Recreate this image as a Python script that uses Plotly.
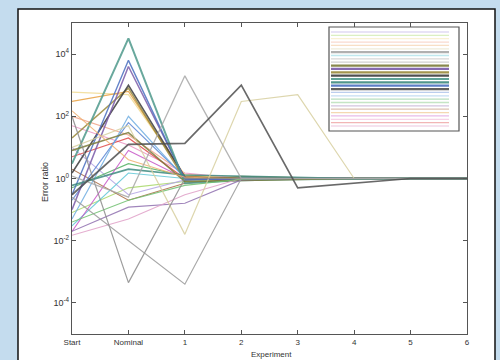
import plotly.graph_objects as go

# ---------------- data ----------------
categories = ["Start", "Nominal", "1", "2", "3", "4", "5", "6"]

y_tick_vals = [1e-4, 1e-2, 1e0, 1e2, 1e4]
y_tick_text = ["10<sup>-4</sup>", "10<sup>-2</sup>", "10<sup>0</sup>", "10<sup>2</sup>", "10<sup>4</sup>"]

# error ratio per run (Start, Nominal, 1..6)
s_lime      = [0.08, 0.5, 0.8, 1, 1, 1, 1, 1]
s_lavender  = [10, 0.3, 0.9, 1, 1, 1, 1, 1]
s_brown     = [2.0, 0.2, 0.7, 1, 1, 1, 1, 1]
s_salmon    = [100, 25, 1.4, 1, 1, 1, 1, 1]
s_cyan      = [0.03, 1.5, 1.0, 1.1, 1, 1, 1, 1]
s_green     = [0.5, 3.0, 1.2, 1, 1, 1, 1, 1]
s_magenta   = [0.02, 8.0, 1.0, 1, 1, 1, 1, 1]
s_pink      = [50, 12, 1.5, 1, 1, 1, 1, 1]
s_red       = [5.0, 20, 1.0, 1, 1, 1, 1, 1]
s_blue2     = [0.2, 63, 1.1, 1, 1, 1, 1, 1]
s_lightblue = [0.05, 100, 1.0, 1, 1, 1, 1, 1]
s_yellow    = [600, 500, 1.3, 1, 1, 1, 1, 1]
s_orange    = [300, 630, 1.2, 1, 1, 1, 1, 1]
s_olive     = [20, 800, 0.9, 1.15, 1.05, 1, 1, 1]
s_black     = [1.5, 1000, 1.1, 1.0, 1, 1, 1, 1]
s_purple    = [0.1, 4000, 1.0, 0.9, 1, 1, 1, 1]
s_blue      = [0.3, 6300, 0.9, 1.0, 1, 1, 1, 1]
s_teal      = [3.0, 32000, 0.7, 0.88, 0.95, 1, 1, 1]
s_teal2     = [0.6, 2.0, 1.3, 1.2, 1.08, 1, 1, 1]
s_olive2    = [8.0, 30, 0.8, 0.85, 0.92, 1, 1, 1]
s_lowpurple = [0.02, 0.12, 0.16, 0.9, 1, 1, 1, 1]
s_lowpink   = [0.015, 0.05, 0.3, 1.0, 1, 1, 1, 1]
s_lowgreen  = [0.04, 0.2, 0.6, 0.95, 1, 1, 1, 1]
s_orange2   = [150, 4.0, 1.1, 1.0, 1, 1, 1, 1]
s_tan       = [10, 50, 0.016, 300, 500, 1.0, 1, 1]
s_grayV1    = [100, 4.5e-4, 1.0, 1.0, 1, 1, 1, 1]
s_grayV2    = [0.25, 0.01, 4e-4, 1.0, 1, 1, 1, 1]
s_grayPeak1 = [1.2, 0.25, 2000, 1.0, 1, 1, 1, 1]
s_darkPeak2 = [0.3, 12.6, 13.5, 1000, 0.5, 0.7, 1, 1]

series = [
    (s_lime, "#a8d868", 1.1),
    (s_lavender, "#b4a4e4", 1.1),
    (s_brown, "#a86a40", 1.1),
    (s_salmon, "#f2a488", 1.1),
    (s_cyan, "#60c8d8", 1.1),
    (s_green, "#50b060", 1.1),
    (s_magenta, "#c858c8", 1.1),
    (s_pink, "#ec94c4", 1.1),
    (s_red, "#e04848", 1.2),
    (s_blue2, "#5a86d4", 1.2),
    (s_lightblue, "#70aee2", 1.2),
    (s_yellow, "#f2dc94", 1.2),
    (s_orange, "#e8a040", 1.2),
    (s_olive, "#9a8a3a", 1.5),
    (s_black, "#3c3c3c", 1.6),
    (s_purple, "#7a5aa8", 1.5),
    (s_blue, "#4a6fc0", 1.4),
    (s_teal, "#4f9a8c", 2.0),
    (s_teal2, "#3e8a80", 1.6),
    (s_olive2, "#7c7c3a", 1.5),
    (s_lowpurple, "#9070b0", 1.1),
    (s_lowpink, "#e0a0c8", 1.1),
    (s_lowgreen, "#70c070", 1.1),
    (s_orange2, "#f0b070", 1.1),
    (s_tan, "#d8d0a0", 1.2),
    (s_grayV1, "#8c8c8c", 1.2),
    (s_grayV2, "#9a9a9a", 1.2),
    (s_grayPeak1, "#a8a8a8", 1.3),
    (s_darkPeak2, "#505050", 1.7),
]

x_pos = list(range(len(categories)))

fig = go.Figure()
for vals, col, w in series:
    fig.add_trace(go.Scatter(x=x_pos, y=vals, mode="lines",
                             line=dict(color=col, width=w),
                             opacity=0.85, showlegend=False, hoverinfo="skip"))

# ---------------- layout ----------------
W, H = 500, 360
L, R, T, B = 72, 33, 23, 26
pw, ph = W - L - R, H - T - B

def px(x):
    return (x - L) / pw

def py(y):
    return (H - B - y) / ph

shapes = []
# white panel with black border
shapes.append(dict(type="rect", xref="paper", yref="paper",
                   x0=px(18), x1=px(495), y0=py(368), y1=py(9),
                   fillcolor="white", line=dict(color="#111111", width=1.5),
                   layer="below"))

# legend box
shapes.append(dict(type="rect", xref="paper", yref="paper",
                   x0=px(329), x1=px(459), y0=py(131), y1=py(27),
                   fillcolor="white", line=dict(color="#555555", width=1.2),
                   layer="above"))
# legend sample lines (one per series; dark ones clustered as in the picture)
legend_order = [1, 0, 11, 3, 23, 24, 27, 4, 26, 25, 19, 15, 13, 14, 17, 18, 16, 28,
                9, 10, 5, 22, 20, 2, 12, 6, 7, 8, 21]
dark = {27, 15, 13, 14, 17, 18, 16, 28, 19}
n = len(legend_order)
for k, idx in enumerate(legend_order):
    yy = 32 + k * (126 - 32) / (n - 1)
    col = series[idx][1]
    shapes.append(dict(type="line", xref="paper", yref="paper",
                       x0=px(331), x1=px(449), y0=py(yy), y1=py(yy),
                       line=dict(color=col, width=2.2 if idx in dark else 1.3),
                       opacity=0.9 if idx in dark else 0.4, layer="above"))

annotations = [
    dict(text="Error ratio", xref="paper", yref="paper", x=px(38), y=py(182),
         textangle=-90, showarrow=False, font=dict(size=9, color="#333333")),
    dict(text="Experiment", xref="paper", yref="paper", x=px(271), y=py(354),
         yanchor="middle", showarrow=False, font=dict(size=8, color="#333333")),
]

axis_common = dict(showline=True, linecolor="#555555", linewidth=1.3, mirror="ticks",
                   ticks="inside", ticklen=4, tickcolor="#555555", showgrid=False,
                   zeroline=False)

fig.update_layout(
    width=W, height=H,
    margin=dict(l=L, r=R, t=T, b=B),
    paper_bgcolor="#c4dcee",
    plot_bgcolor="white",
    font=dict(family="Liberation Sans, Arial", color="#333333"),
    xaxis=dict(range=[0, len(categories) - 1], tickvals=x_pos, ticktext=categories,
               tickfont=dict(size=8, color="#333333"), **axis_common),
    yaxis=dict(type="log", range=[-5, 5], tickvals=y_tick_vals, ticktext=y_tick_text,
               tickfont=dict(size=9, color="#333333"), **axis_common),
    shapes=shapes,
    annotations=annotations,
)

fig.write_html("out.html", config={"displayModeBar": False},
               post_script="document.body.style.margin='0';document.body.style.padding='0';")
